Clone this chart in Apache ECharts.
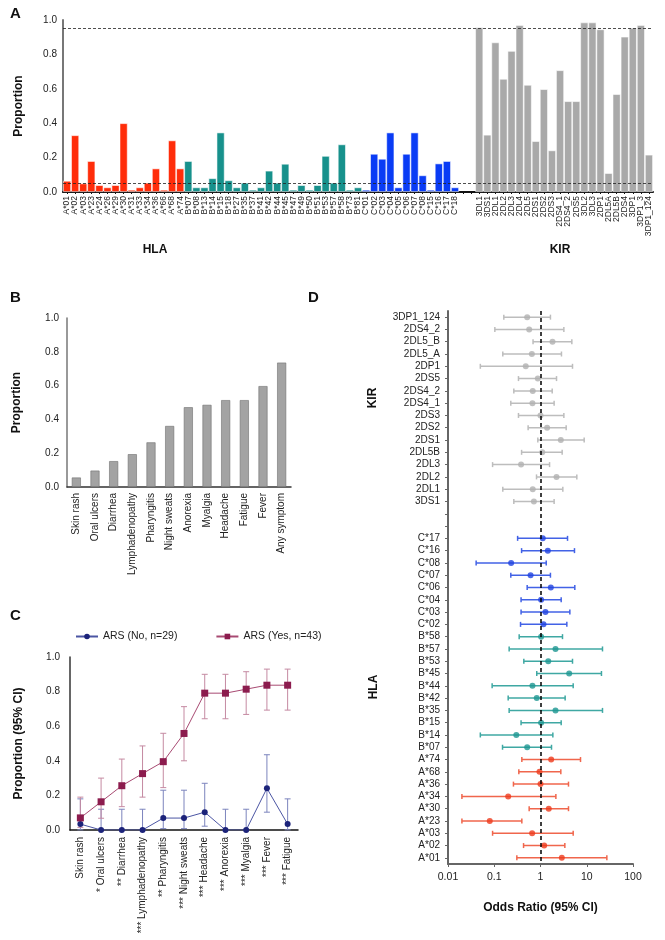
<!DOCTYPE html>
<html><head><meta charset="utf-8">
<script src="https://cdn.jsdelivr.net/npm/echarts@6/dist/echarts.min.js"></script>
<style>html,body{margin:0;padding:0;background:#fff}#c{width:665px;height:940px}</style>
</head><body><div id="c"></div>
<script>
// ---------- Panel A data ----------
const hlaA = ['A*01','A*02','A*03','A*23','A*24','A*26','A*29','A*30','A*31','A*33','A*34','A*36','A*66','A*68','A*74'];
const hlaAVals = [0.065,0.33,0.05,0.18,0.04,0.027,0.04,0.40,0.013,0.027,0.054,0.137,0.013,0.30,0.137];
const hlaB = ['B*07','B*08','B*13','B*14','B*15','B*18','B*27','B*35','B*37','B*41','B*42','B*44','B*45','B*47','B*49','B*50','B*51','B*53','B*57','B*58','B*73','B*81'];
const hlaBVals = [0.18,0.027,0.027,0.08,0.346,0.068,0.027,0.054,0.013,0.027,0.124,0.054,0.164,0.013,0.04,0.013,0.04,0.21,0.054,0.277,0.013,0.027];
const hlaC = ['C*01','C*02','C*03','C*04','C*05','C*06','C*07','C*08','C*15','C*16','C*17','C*18'];
const hlaCVals = [0.013,0.222,0.193,0.346,0.027,0.222,0.346,0.097,0.013,0.166,0.18,0.027];
const gapCats = ['', ' '];
const kir = ['3DL1','3DS1','2DL1','2DL2','2DL3','2DL4','2DL5','2DS1','2DS2','2DS3','2DS4_1','2DS4_2','2DS5','3DL2','3DL3','2DP1','2DL5A','2DL5B','2DS4','3DP1','3DP1_3','3DP1_124'];
const kirVals = [0.957,0.333,0.870,0.658,0.820,0.971,0.623,0.296,0.598,0.242,0.708,0.528,0.528,0.986,0.986,0.946,0.110,0.569,0.903,0.955,0.971,0.217];
const thresholds = [0.05, 0.95];

// ---------- Panel B data ----------
const symptomsB = ['Skin rash','Oral ulcers','Diarrhea','Lymphadenopathy','Pharyngitis','Night sweats','Anorexia','Myalgia','Headache','Fatigue','Fever','Any symptom'];
const symptomsBVals = [0.056,0.097,0.153,0.194,0.264,0.361,0.472,0.486,0.514,0.514,0.597,0.736];

// ---------- Panel C data ----------
const symptomsC = ['Skin rash','* Oral ulcers','** Diarrhea','*** Lymphadenopathy','** Pharyngitis','*** Night sweats','*** Headache','*** Anorexia','*** Myalgia','*** Fever','*** Fatigue'];
const arsNo = [0.034,0,0,0,0.069,0.069,0.103,0,0,0.241,0.034];
const arsNoLo = [0.001,0,0,0,0.008,0.008,0.022,0,0,0.103,0.001];
const arsNoHi = [0.18,0.12,0.12,0.12,0.23,0.23,0.27,0.12,0.12,0.435,0.18];
const arsYes = [0.070,0.163,0.256,0.326,0.395,0.558,0.791,0.791,0.814,0.837,0.837];
const arsYesLo = [0.015,0.068,0.135,0.19,0.245,0.40,0.643,0.643,0.668,0.693,0.693];
const arsYesHi = [0.19,0.30,0.41,0.486,0.559,0.713,0.90,0.90,0.915,0.93,0.93];

// ---------- Panel D data ----------
const forestLabels = ['3DP1_124','2DS4_2','2DL5_B','2DL5_A','2DP1','2DS5','2DS4_2','2DS4_1','2DS3','2DS2','2DS1','2DL5B','2DL3','2DL2','2DL1','3DS1','','',
  'C*17','C*16','C*08','C*07','C*06','C*04','C*03','C*02',
  'B*58','B*57','B*53','B*45','B*44','B*42','B*35','B*15','B*14','B*07',
  'A*74','A*68','A*36','A*34','A*30','A*23','A*03','A*02','A*01'];
const forestGroup = ['K','K','K','K','K','K','K','K','K','K','K','K','K','K','K','K','','',
  'C','C','C','C','C','C','C','C',
  'B','B','B','B','B','B','B','B','B','B',
  'A','A','A','A','A','A','A','A','A'];
const forestOR = [0.515,0.569,1.82,0.65,0.48,0.875,0.68,0.67,1.0,1.39,2.75,1.09,0.38,2.22,0.68,0.72,null,null,
  1.12,1.44,0.232,0.61,1.67,1.03,1.28,1.16,
  1.03,2.11,1.47,4.17,0.67,0.83,2.11,1.03,0.30,0.515,
  1.70,0.95,1.0,0.2,1.51,0.08,0.66,1.2,2.89];
const forestLo = [0.161,0.103,0.69,0.153,0.05,0.334,0.265,0.228,0.334,0.54,0.875,0.39,0.092,0.82,0.153,0.265,null,null,
  0.32,0.39,0.0406,0.228,0.515,0.38,0.38,0.37,
  0.346,0.21,0.436,0.83,0.09,0.2,0.21,0.38,0.05,0.151,
  0.395,0.34,0.26,0.02,0.569,0.02,0.092,0.43,0.308];
const forestHi = [1.64,3.2,4.76,2.84,4.92,2.22,1.79,1.97,3.2,3.59,8.8,2.94,1.57,6.1,3.04,1.97,null,null,
  3.84,5.43,1.33,1.64,5.52,2.8,4.31,3.71,
  2.99,21.9,4.92,20.8,5.09,3.41,21.9,2.8,1.85,1.73,
  7.33,2.75,4.03,2.15,4.03,0.395,5.09,3.36,27.2];

// ---------- styling ----------
const FONT = "'Liberation Sans', Arial, sans-serif";
const colA = '#ff2d0a', colB = '#17918c', colC = '#0a3cf5', colK = '#a9a9a9';
const groupColor = {A: colA, B: colB, C: colC, K: colK};
const forestColor = {A: '#ee3a1c', B: '#1d9691', C: '#1f42e0', K: '#b0b0b0'};
const forestBarColor = {A: '#f0664c', B: '#3fa8a3', C: '#4262e6', K: '#bdbdbd'};

const catsA = [].concat(hlaA, hlaB, hlaC, gapCats, kir);
const valsA = [].concat(hlaAVals, hlaBVals, hlaCVals, gapCats.map(() => null), kirVals);
const grpA = [].concat(hlaA.map(()=>'A'), hlaB.map(()=>'B'), hlaC.map(()=>'C'), gapCats.map(()=>'A'), kir.map(()=>'K'));
const dataA = valsA.map((v,i) => ({value: v, itemStyle: {color: groupColor[grpA[i]]}}));

const axisTxt = {fontFamily: FONT, color: '#222'};
const boldName = {fontFamily: FONT, fontWeight: 'bold', fontSize: 12, color: '#111'};

function errRender(color){
  return function(params, api){
    const i = api.value(0);
    const l = api.coord([i, api.value(1)]);
    const h = api.coord([i, api.value(2)]);
    const w = 3;
    const st = {stroke: color, lineWidth: 1};
    return {type:'group', children:[
      {type:'line', shape:{x1:l[0],y1:l[1],x2:h[0],y2:h[1]}, style:st},
      {type:'line', shape:{x1:l[0]-w,y1:l[1],x2:l[0]+w,y2:l[1]}, style:st},
      {type:'line', shape:{x1:h[0]-w,y1:h[1],x2:h[0]+w,y2:h[1]}, style:st}
    ]};
  };
}
function forestRender(params, api){
  const lo = api.coord([api.value(0), api.value(2)]);
  const hi = api.coord([api.value(1), api.value(2)]);
  const g = forestGroup[api.value(2)];
  const st = {stroke: forestBarColor[g], lineWidth: 1.5};
  const w = 2.5;
  return {type:'group', children:[
    {type:'line', shape:{x1:lo[0],y1:lo[1],x2:hi[0],y2:hi[1]}, style:st},
    {type:'line', shape:{x1:lo[0],y1:lo[1]-w,x2:lo[0],y2:lo[1]+w}, style:st},
    {type:'line', shape:{x1:hi[0],y1:hi[1]-w,x2:hi[0],y2:hi[1]+w}, style:st}
  ]};
}

const forestRows = forestLabels.map((_, i) => 'r' + i);
const forestErrData = [], forestPtData = [];
forestLabels.forEach((lab, i) => {
  if (forestOR[i] == null) return;
  forestErrData.push([forestLo[i], forestHi[i], i]);
  forestPtData.push({value: [forestOR[i], i], itemStyle: {color: forestColor[forestGroup[i]]}});
});

const chart = echarts.init(document.getElementById('c'), null, {renderer: 'canvas'});
const option = {
  backgroundColor: '#fff',
  textStyle: {fontFamily: FONT},
  animation: false,
  grid: [
    {left: 63, top: 20, width: 590, height: 172},
    {left: 67, top: 318, width: 224, height: 169},
    {left: 70, top: 657, width: 228, height: 173},
    {left: 448, top: 311, width: 185, height: 553}
  ],
  legend: {
    left: 70, top: 626, itemWidth: 22, itemHeight: 7, itemGap: 38,
    textStyle: {fontFamily: FONT, fontSize: 10.5, color: '#222'},
    data: ['ARS (No, n=29)', 'ARS (Yes, n=43)']
  },
  xAxis: [
    {gridIndex: 0, type: 'category', data: catsA,
      axisLine: {lineStyle: {color: '#111', width: 2}},
      axisTick: {show: true, length: 2, alignWithLabel: true, lineStyle: {color: '#111'}},
      axisLabel: Object.assign({interval: 0, rotate: 90, fontSize: 8.5, margin: 4}, axisTxt)},
    {gridIndex: 1, type: 'category', data: symptomsB,
      axisLine: {lineStyle: {color: '#333', width: 1.5}},
      axisTick: {show: false},
      axisLabel: Object.assign({interval: 0, rotate: 90, fontSize: 10, margin: 6}, axisTxt)},
    {gridIndex: 2, type: 'category', data: symptomsC,
      axisLine: {lineStyle: {color: '#111', width: 1.5}},
      axisTick: {show: false},
      axisLabel: Object.assign({interval: 0, rotate: 90, fontSize: 10, margin: 7}, axisTxt)},
    {gridIndex: 3, type: 'log', logBase: 10, min: 0.01, max: 100,
      axisLine: {show: true, lineStyle: {color: '#666', width: 2}},
      axisTick: {show: true, length: 3, lineStyle: {color: '#666'}},
      splitLine: {show: false},
      minorTick: {show: false},
      axisLabel: Object.assign({fontSize: 10.5, margin: 8, formatter: v => String(parseFloat(Number(v).toPrecision(3)))}, axisTxt),
      name: 'Odds Ratio (95% CI)', nameLocation: 'middle', nameGap: 38, nameTextStyle: boldName}
  ],
  yAxis: [
    {gridIndex: 0, type: 'value', min: 0, max: 1, interval: 0.2,
      axisLine: {show: true, lineStyle: {color: '#777', width: 2}},
      axisTick: {show: false}, splitLine: {show: false},
      axisLabel: Object.assign({fontSize: 10, formatter: v => v.toFixed(1), margin: 6}, axisTxt),
      name: 'Proportion', nameLocation: 'middle', nameGap: 38, nameTextStyle: boldName},
    {gridIndex: 1, type: 'value', min: 0, max: 1, interval: 0.2,
      axisLine: {show: true, lineStyle: {color: '#777', width: 1.5}},
      axisTick: {show: false}, splitLine: {show: false},
      axisLabel: Object.assign({fontSize: 10, formatter: v => v.toFixed(1), margin: 8}, axisTxt),
      name: 'Proportion', nameLocation: 'middle', nameGap: 44, nameTextStyle: boldName},
    {gridIndex: 2, type: 'value', min: 0, max: 1, interval: 0.2,
      axisLine: {show: true, lineStyle: {color: '#333', width: 1.5}},
      axisTick: {show: false}, splitLine: {show: false},
      axisLabel: Object.assign({fontSize: 10, formatter: v => v.toFixed(1), margin: 10}, axisTxt),
      name: 'Proportion (95% CI)', nameLocation: 'middle', nameGap: 45, nameTextStyle: boldName},
    {gridIndex: 3, type: 'category', data: forestRows, inverse: true,
      axisLine: {show: true, lineStyle: {color: '#666', width: 2}},
      axisTick: {show: true, length: 3, alignWithLabel: true, lineStyle: {color: '#666'}},
      axisLabel: Object.assign({interval: 0, fontSize: 10, margin: 8, formatter: (v, i) => forestLabels[i]}, axisTxt)}
  ],
  graphic: [
    {type: 'text', left: 10, top: 6, style: {text: 'A', font: 'bold 15px ' + FONT, fill: '#111'}},
    {type: 'text', left: 10, top: 290, style: {text: 'B', font: 'bold 15px ' + FONT, fill: '#111'}},
    {type: 'text', left: 10, top: 608, style: {text: 'C', font: 'bold 15px ' + FONT, fill: '#111'}},
    {type: 'text', left: 308, top: 290, style: {text: 'D', font: 'bold 15px ' + FONT, fill: '#111'}},
    {type: 'text', x: 155, y: 250, style: {text: 'HLA', font: 'bold 12px ' + FONT, fill: '#111', align: 'center', verticalAlign: 'middle'}},
    {type: 'text', x: 560, y: 250, style: {text: 'KIR', font: 'bold 12px ' + FONT, fill: '#111', align: 'center', verticalAlign: 'middle'}},
    {type: 'text', x: 373, y: 398, rotation: Math.PI/2, style: {text: 'KIR', font: 'bold 12px ' + FONT, fill: '#111', align: 'center', verticalAlign: 'middle'}},
    {type: 'text', x: 374, y: 687, rotation: Math.PI/2, style: {text: 'HLA', font: 'bold 12px ' + FONT, fill: '#111', align: 'center', verticalAlign: 'middle'}}
  ],
  series: [
    {type: 'bar', xAxisIndex: 0, yAxisIndex: 0, data: dataA, barCategoryGap: '0%',
      itemStyle: {borderColor: 'rgba(255,255,255,0.7)', borderWidth: 0.8},
      markLine: {silent: true, symbol: 'none', label: {show: false},
        lineStyle: {type: [3, 2], color: '#222', width: 0.8},
        data: thresholds.map(t => ({yAxis: t}))}},
    {type: 'bar', xAxisIndex: 1, yAxisIndex: 1, data: symptomsBVals, barWidth: 9,
      itemStyle: {color: '#a3a3a3', borderColor: '#6f6f6f', borderWidth: 0.6}},
    {type: 'custom', name: 'errNo', xAxisIndex: 2, yAxisIndex: 2, z: 2,
      renderItem: errRender('#7c84bd'),
      encode: {x: 0, y: [1, 2]},
      data: symptomsC.map((_, i) => [i, arsNoLo[i], arsNoHi[i]])},
    {type: 'custom', name: 'errYes', xAxisIndex: 2, yAxisIndex: 2, z: 2,
      renderItem: errRender('#c58aa2'),
      encode: {x: 0, y: [1, 2]},
      data: symptomsC.map((_, i) => [i, arsYesLo[i], arsYesHi[i]])},
    {type: 'line', name: 'ARS (No, n=29)', xAxisIndex: 2, yAxisIndex: 2, z: 3,
      data: arsNo, symbol: 'circle', symbolSize: 6,
      lineStyle: {color: '#4b55a3', width: 1}, itemStyle: {color: '#1c237a'}},
    {type: 'line', name: 'ARS (Yes, n=43)', xAxisIndex: 2, yAxisIndex: 2, z: 3,
      data: arsYes, symbol: 'rect', symbolSize: 7,
      lineStyle: {color: '#a84a72', width: 1}, itemStyle: {color: '#8c1c4e'}},
    {type: 'custom', xAxisIndex: 3, yAxisIndex: 3, z: 2,
      renderItem: forestRender, encode: {x: [0, 1], y: 2}, data: forestErrData},
    {type: 'scatter', xAxisIndex: 3, yAxisIndex: 3, z: 3, symbolSize: 6,
      data: forestPtData,
      markLine: {silent: true, symbol: 'none', label: {show: false},
        lineStyle: {type: [4, 3], color: '#000', width: 1.5},
        data: [{xAxis: 1}]}}
  ]
};
chart.setOption(option);
</script>
</body></html>
